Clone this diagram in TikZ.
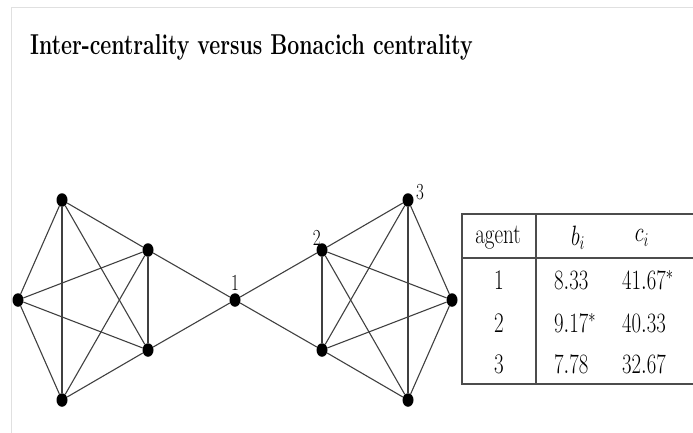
\documentclass[tikz,border=0pt]{standalone}
\usepackage{graphicx}
\usetikzlibrary{positioning,shapes.geometric}
\newcommand{\alto}[1]{\scalebox{1}[1.35]{#1}}
\begin{document}
\begin{tikzpicture}[x=1pt,y=-1pt,
    agente/.style={ellipse,fill=black,inner sep=0pt,minimum width=11pt,minimum height=13.5pt},
    arco/.style={draw=black!75,line width=1.1pt},
    cella/.style={font=\fontsize{21}{24}\selectfont,inner sep=0pt},
    etichetta/.style={font=\fontsize{17}{20}\selectfont,inner sep=1pt}]
    \useasboundingbox (0,0) rectangle (693,433);
    % Cornice
    \draw[black!12,line width=1pt] (11,433) -- (11,8) -- (693,8);

    % Titolo
    \node[anchor=base west,inner sep=0pt,font=\fontsize{21.3}{26}\selectfont] (titolo) at (30,55) {\alto{\bfseries Inter-centrality versus Bonacich centrality}};

    % Agenti
    \node[agente] (s1) at (62,200) {};
    \node[agente] (s2) at (148,250) {};
    \node[agente] (s3) at (148,350) {};
    \node[agente] (s4) at (62,400) {};
    \node[agente] (s5) at (18,300) {};
    \node[agente] (c) at (235,300) {};
    \node[agente] (d1) at (322,250) {};
    \node[agente] (d2) at (408,200) {};
    \node[agente] (d3) at (452,300) {};
    \node[agente] (d4) at (408,400) {};
    \node[agente] (d5) at (322,350) {};

    % Archi
    \foreach \u/\v in {s1/s2,s1/s3,s1/s4,s1/s5,s2/s3,s2/s4,s2/s5,s3/s4,s3/s5,s4/s5,
                       d1/d2,d1/d3,d1/d4,d1/d5,d2/d3,d2/d4,d2/d5,d3/d4,d3/d5,d4/d5,
                       c/s2,c/s3,c/d1,c/d5}
        \draw[arco] (\u) -- (\v);

    % Etichette
    \node[etichetta,above=1pt of c] (e1) {\alto{1}};
    \node[etichetta,above left=-2pt and -4pt of d1] (e2) {\alto{2}};
    \node[etichetta,above right=-6pt and 3pt of d2] (e3) {\alto{3}};

    % Tabella
    \draw[black!70,line width=1.4pt] (693,214) -- (462,214) -- (462,384) -- (693,384);
    \draw[black!70,line width=1.4pt] (462,258) -- (693,258);
    \draw[black!70,line width=1.4pt] (536,214) -- (536,384);
    \node[cella] (h1) at (498,238) {\alto{agent}};
    \node[cella] (h2) at (578,238) {\alto{$b_i$}};
    \node[cella] (h3) at (642,238) {\alto{$c_i$}};
    \foreach \y/\b/\c [count=\i] in {280/8.33/41.67^*, 323/9.17^*/40.33, 364/7.78/32.67} {
        \node[cella] (r\i a) at (499,\y) {\alto{\i}};
        \node[cella,anchor=west] (r\i b) at (554,\y) {\alto{$\b$}};
        \node[cella,anchor=west] (r\i c) at (622,\y) {\alto{$\c$}};
    }
\end{tikzpicture}
\end{document}
